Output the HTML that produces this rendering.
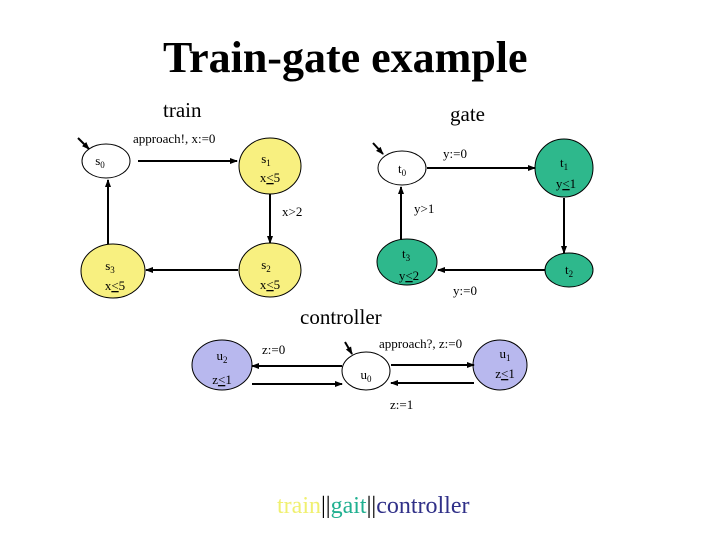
<!DOCTYPE html>
<html><head><meta charset="utf-8"><style>
body{margin:0;width:720px;height:540px;background:#fff;overflow:hidden}
svg{display:block}
text{font-family:"Liberation Serif",serif;fill:#000}
</style></head><body>
<svg width="720" height="540" viewBox="0 0 720 540">
<defs><marker id="a" markerWidth="8" markerHeight="8" refX="7" refY="4" orient="auto" markerUnits="userSpaceOnUse"><path d="M0,1 L8,4 L0,7z" fill="#000"/></marker></defs>
<text x="163" y="72" font-size="44" font-weight="bold">Train-gate example</text>
<text x="163" y="117" font-size="21">train</text>
<text x="450" y="121" font-size="21">gate</text>
<g stroke="#000" stroke-width="1">
<ellipse cx="106" cy="161" rx="24" ry="17" fill="#fff"/>
<ellipse cx="270" cy="166" rx="31" ry="28" fill="#f8f080"/>
<ellipse cx="270" cy="270" rx="31" ry="27" fill="#f8f080"/>
<ellipse cx="113" cy="271" rx="32" ry="27" fill="#f8f080"/>
<ellipse cx="402" cy="168" rx="24" ry="17" fill="#fff"/>
<ellipse cx="564" cy="168" rx="29" ry="29" fill="#2eb88c"/>
<ellipse cx="569" cy="270" rx="24" ry="17" fill="#2eb88c"/>
<ellipse cx="407" cy="262" rx="30" ry="23" fill="#2eb88c"/>
<ellipse cx="222" cy="365" rx="30" ry="25" fill="#b8b8ee"/>
<ellipse cx="366" cy="371" rx="24" ry="19" fill="#fff"/>
<ellipse cx="500" cy="365" rx="27" ry="25" fill="#b8b8ee"/>
</g>
<g stroke="#000" stroke-width="2" marker-end="url(#a)">
<line x1="138" y1="161" x2="237" y2="161"/>
<line x1="270" y1="194" x2="270" y2="243"/>
<line x1="238" y1="270" x2="146" y2="270"/>
<line x1="108" y1="244" x2="108" y2="180"/>
<line x1="78" y1="138" x2="89" y2="149"/>
<line x1="427" y1="168" x2="535" y2="168"/>
<line x1="564" y1="198" x2="564" y2="253"/>
<line x1="545" y1="270" x2="438" y2="270"/>
<line x1="401" y1="240" x2="401" y2="187"/>
<line x1="373" y1="143" x2="383" y2="154"/>
<line x1="342" y1="366" x2="252" y2="366"/>
<line x1="252" y1="384" x2="342" y2="384"/>
<line x1="391" y1="365" x2="474" y2="365"/>
<line x1="474" y1="383" x2="391" y2="383"/>
<line x1="345" y1="342" x2="352" y2="354"/>
</g>
<g font-size="13" text-anchor="middle">
<text x="100" y="165">s<tspan font-size="9" dy="3">0</tspan></text>
<text x="266" y="163">s<tspan font-size="9" dy="3">1</tspan></text><text x="270" y="182">x<tspan text-decoration="underline">&lt;</tspan>5</text>
<text x="266" y="269">s<tspan font-size="9" dy="3">2</tspan></text><text x="270" y="289">x<tspan text-decoration="underline">&lt;</tspan>5</text>
<text x="110" y="270">s<tspan font-size="9" dy="3">3</tspan></text><text x="115" y="290">x<tspan text-decoration="underline">&lt;</tspan>5</text>
<text x="402" y="173">t<tspan font-size="9" dy="3">0</tspan></text>
<text x="564" y="167">t<tspan font-size="9" dy="3">1</tspan></text><text x="566" y="188">y<tspan text-decoration="underline">&lt;</tspan>1</text>
<text x="569" y="274">t<tspan font-size="9" dy="3">2</tspan></text>
<text x="406" y="258">t<tspan font-size="9" dy="3">3</tspan></text><text x="409" y="280">y<tspan text-decoration="underline">&lt;</tspan>2</text>
<text x="222" y="360">u<tspan font-size="9" dy="3">2</tspan></text><text x="222" y="384">z<tspan text-decoration="underline">&lt;</tspan>1</text>
<text x="366" y="379">u<tspan font-size="9" dy="3">0</tspan></text>
<text x="505" y="358">u<tspan font-size="9" dy="3">1</tspan></text><text x="505" y="378">z<tspan text-decoration="underline">&lt;</tspan>1</text>
</g>
<g font-size="13">
<text x="133" y="143">approach!, x:=0</text>
<text x="282" y="216">x&gt;2</text>
<text x="443" y="158">y:=0</text>
<text x="414" y="213">y&gt;1</text>
<text x="453" y="295">y:=0</text>
<text x="262" y="354">z:=0</text>
<text x="379" y="348">approach?, z:=0</text>
<text x="390" y="409">z:=1</text>
</g>
<text x="300" y="324" font-size="21">controller</text>
<text x="277" y="513" font-size="24"><tspan fill="#f0f070">train</tspan><tspan fill="#000">||</tspan><tspan fill="#20b090">gait</tspan><tspan fill="#000">||</tspan><tspan fill="#303088">controller</tspan></text>
</svg>
</body></html>
